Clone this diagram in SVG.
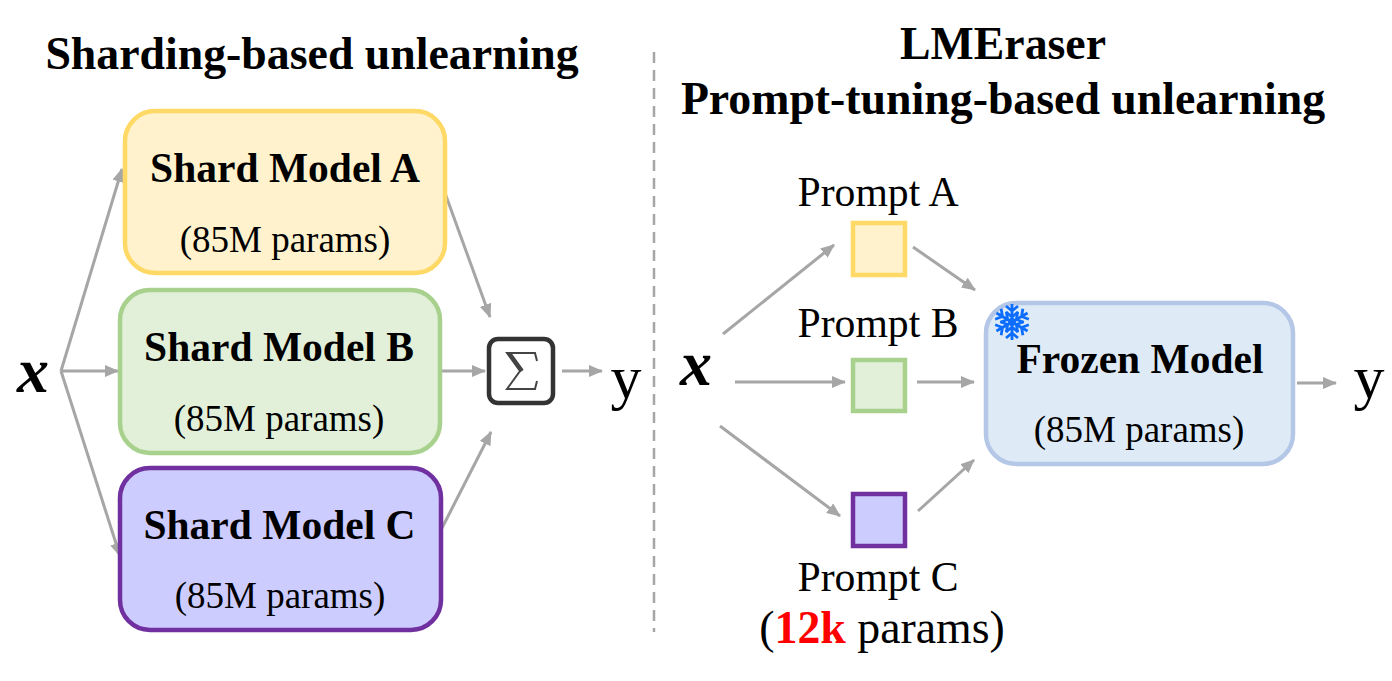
<svg xmlns="http://www.w3.org/2000/svg" width="1392" height="681" viewBox="0 0 1392 681">
<style>
text{font-family:"Liberation Serif","Times New Roman",serif;fill:#000;text-anchor:middle}
.title{font-size:45.8px;font-weight:bold}
.name{font-size:41.5px;font-weight:bold}
.sub{font-size:37px}
.lab{font-size:41.7px}
.y{font-size:62px}
.x{font-size:64px;font-weight:bold;font-style:italic}
.box{stroke-width:4.5}
.sq{stroke-width:4.5}
.a{fill:#fff2cc;stroke:#ffd966}
.b{fill:#e2f0d9;stroke:#a9d18e}
.c{fill:#ccccff;stroke:#7030a0}
.f{fill:#deebf7;stroke:#b4c7e7}
#connectors line{stroke:#a6a6a6;stroke-width:3;marker-end:url(#tip)}
</style>
<defs>
<marker id="tip" markerUnits="userSpaceOnUse" markerWidth="14" markerHeight="12" refX="13" refY="6" orient="auto">
<path d="M0 0L14 6L0 12Z" fill="#a6a6a6"/>
</marker>
<g id="arm"><path d="M0 0V-18M0 -11L-6 -16M0 -11L6 -16M0 -5L-6 -10M0 -5L6 -10" stroke="#0d6efd" stroke-width="2.8" fill="none"/></g>
</defs>
<text class="title" x="312" y="69">Sharding-based unlearning</text>
<text class="title" x="1003" y="59">LMEraser</text>
<text class="title" x="1003" y="114">Prompt-tuning-based unlearning</text>
<line x1="654" y1="52" x2="654" y2="632" stroke="#a6a6a6" stroke-width="2.5" stroke-dasharray="11 7"/>
<g id="connectors">
<line x1="61" y1="371" x2="122" y2="169"/>
<line x1="61" y1="371" x2="118" y2="371"/>
<line x1="61" y1="371" x2="120" y2="556"/>
<line x1="445" y1="193" x2="490" y2="317"/>
<line x1="442" y1="371" x2="485" y2="371"/>
<line x1="442" y1="528" x2="491" y2="432"/>
<line x1="562" y1="371" x2="602" y2="371"/>
<line x1="723" y1="334" x2="834" y2="245"/>
<line x1="735" y1="382" x2="845" y2="382"/>
<line x1="720" y1="426" x2="840" y2="516"/>
<line x1="913" y1="247" x2="975" y2="290"/>
<line x1="917" y1="382" x2="974" y2="382"/>
<line x1="918" y1="511" x2="974" y2="460"/>
<line x1="1297" y1="383" x2="1336" y2="383"/>
</g>
<g id="shard-a"><rect class="box a" x="125" y="111" width="320" height="162" rx="30"/>
<text class="name" x="285" y="182">Shard Model A</text><text class="sub" x="285" y="252">(85M params)</text></g>
<g id="shard-b"><rect class="box b" x="120" y="290" width="320" height="163" rx="30"/>
<text class="name" x="279" y="361">Shard Model B</text><text class="sub" x="279" y="431">(85M params)</text></g>
<g id="shard-c"><rect class="box c" x="120" y="468" width="321" height="162" rx="30"/>
<text class="name" x="279.500" y="539">Shard Model C</text><text class="sub" x="280" y="608">(85M params)</text></g>
<g id="sum"><rect x="489" y="339" width="64" height="64" rx="9" fill="#fff" stroke="#333" stroke-width="4.500"/>
<path d="M537 361L535 353H507L520 371L507 389H535L537 381" fill="none" stroke="#444" stroke-width="2"/><path d="M509 353L522 371" stroke="#444" stroke-width="4"/></g>
<g id="input-left"><text class="x" x="33" y="392">x</text></g>
<g id="output-left"><text class="y" x="626" y="398">y</text></g>
<g id="input-right"><text class="x" x="696" y="385">x</text></g>
<g id="prompt-a"><rect class="sq a" x="853" y="223" width="52" height="52"/><text class="lab" x="878" y="206">Prompt A</text></g>
<g id="prompt-b"><rect class="sq b" x="853" y="360" width="52" height="51"/><text class="lab" x="878" y="337">Prompt B</text></g>
<g id="prompt-c"><rect class="sq c" x="853" y="494" width="52" height="52"/><text class="lab" x="878" y="591">Prompt C</text>
<text class="lab" x="882" y="643" style="font-size:45.8px">(<tspan font-weight="bold" style="fill:#f00">12k</tspan> params)</text></g>
<g id="frozen"><rect class="box f" x="986" y="303" width="307" height="161" rx="30"/>
<text class="name" x="1140" y="373">Frozen Model</text><text class="sub" x="1139" y="442">(85M params)</text>
<g transform="translate(1012 322)"><use href="#arm"/><use href="#arm" transform="rotate(60)"/><use href="#arm" transform="rotate(120)"/><use href="#arm" transform="rotate(180)"/><use href="#arm" transform="rotate(240)"/><use href="#arm" transform="rotate(300)"/><circle r="4" fill="#0d6efd"/></g></g>
<g id="output-right"><text class="y" x="1369" y="398">y</text></g>
</svg>
